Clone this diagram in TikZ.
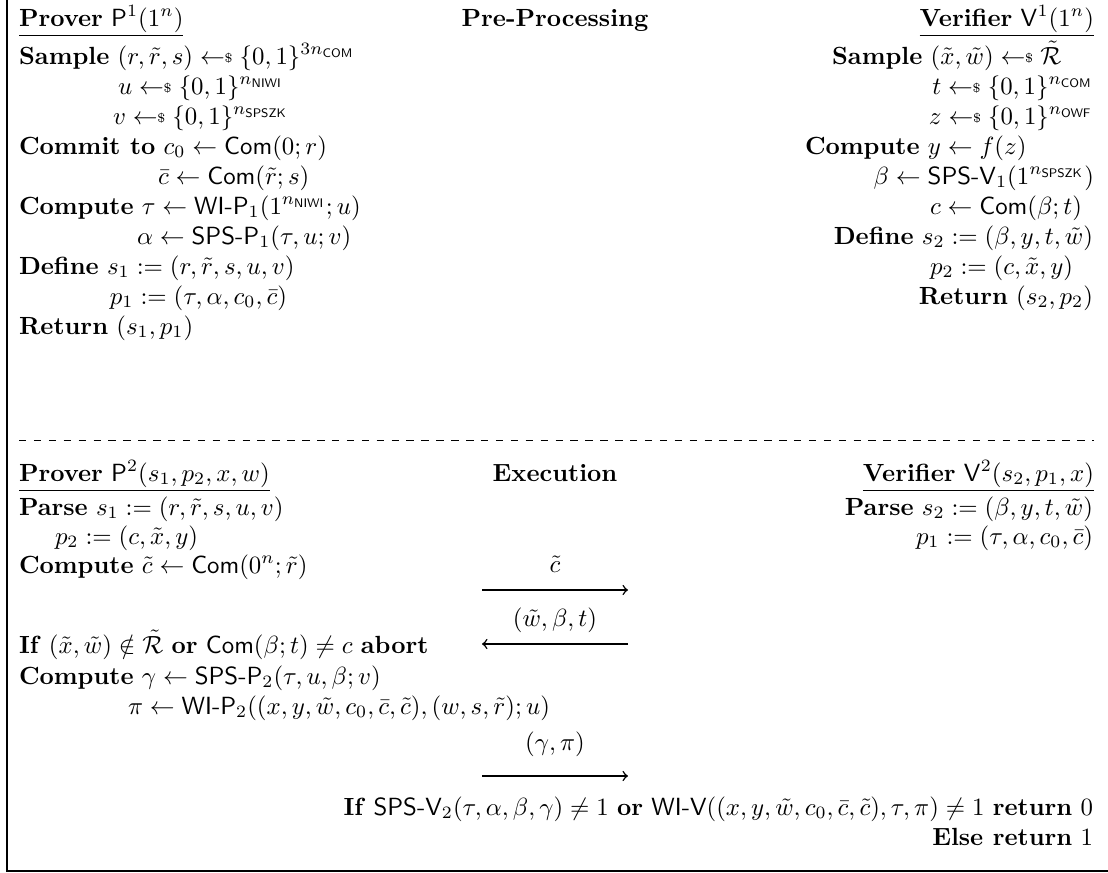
\documentclass[tikz,border=0pt]{standalone}
\usepackage{amsmath,amssymb}
\newcommand{\getsr}{\mathrel{\leftarrow\hspace*{-3pt}\raisebox{.75pt}{$\scriptscriptstyle\$$}}}
\begin{document}
\begin{tikzpicture}[x=0.4026pt,y=-0.4026pt,
  every node/.style={inner sep=0pt,outer sep=0pt},
  lbl/.style={anchor=base west},
  rbl/.style={anchor=base east},
  cbl/.style={anchor=base},
  msg/.style={->,semithick}]
\useasboundingbox (0,0) rectangle (1108,873);
% frame
\draw[semithick] (7,-2) -- (7,871) -- (1110,871);
% ---------- Pre-processing ----------
\node[lbl] (p1title) at (19,26) {\underline{\textbf{Prover} $\mathsf{P}^1(1^n)$}};
\node[cbl] (pre) at (555,26) {\textbf{Pre-Processing}};
\node[rbl] (v1title) at (1094,26) {\underline{\textbf{Verifier} $\mathsf{V}^1(1^n)$}};

\node[lbl] (l1) at (19,64) {\textbf{Sample} $(r,\tilde r,s)\getsr\{0,1\}^{3n_{\mathsf{COM}}}$};
\node[lbl] (l2) at (118,94) {$u\getsr\{0,1\}^{n_{\mathsf{NIWI}}}$};
\node[lbl] (l3) at (113,124) {$v\getsr\{0,1\}^{n_{\mathsf{SPSZK}}}$};
\node[lbl] (l4) at (19,154) {\textbf{Commit to} $c_0\gets\mathsf{Com}(0;r)$};
\node[lbl] (l5) at (158,184) {$\bar c\gets\mathsf{Com}(\tilde r;s)$};
\node[lbl] (l6) at (19,214) {\textbf{Compute} $\tau\gets\textsf{WI-P}_1(1^{n_{\mathsf{NIWI}}};u)$};
\node[lbl] (l7) at (137,244) {$\alpha\gets\textsf{SPS-P}_1(\tau,u;v)$};
\node[lbl] (l8) at (19,274) {\textbf{Define} $s_1:=(r,\tilde r,s,u,v)$};
\node[lbl] (l9) at (110,304) {$p_1:=(\tau,\alpha,c_0,\bar c)$};
\node[lbl] (l10) at (19,334) {\textbf{Return} $(s_1,p_1)$};

\node[lbl] (r1) at (832,64) {\textbf{Sample} $(\tilde x,\tilde w)\getsr\tilde{\mathcal R}$};
\node[rbl] (r2) at (1093,94) {$t\getsr\{0,1\}^{n_{\mathsf{COM}}}$};
\node[rbl] (r3) at (1093,124) {$z\getsr\{0,1\}^{n_{\mathsf{OWF}}}$};
\node[lbl] (r4) at (805,154) {\textbf{Compute} $y\gets f(z)$};
\node[rbl] (r5) at (1094,184) {$\beta\gets\textsf{SPS-V}_1(1^{n_{\mathsf{SPSZK}}})$};
\node[lbl] (r6) at (930,214) {$c\gets\mathsf{Com}(\beta;t)$};
\node[rbl] (r7) at (1093,244) {\textbf{Define} $s_2:=(\beta,y,t,\tilde w)$};
\node[lbl] (r8) at (930,274) {$p_2:=(c,\tilde x,y)$};
\node[rbl] (r9) at (1093,304) {\textbf{Return} $(s_2,p_2)$};

% separator
\coordinate (sepL) at (19,440);
\coordinate (sepR) at (1094,440);
\draw[dashed] (sepL) -- (sepR);

% ---------- Execution ----------
\node[lbl] (p2title) at (19,481) {\underline{\textbf{Prover} $\mathsf{P}^2(s_1,p_2,x,w)$}};
\node[cbl] (exec) at (555,481) {\textbf{Execution}};
\node[rbl] (v2title) at (1094,481) {\underline{\textbf{Verifier} $\mathsf{V}^2(s_2,p_1,x)$}};

\node[lbl] (b1) at (19,515) {\textbf{Parse} $s_1:=(r,\tilde r,s,u,v)$};
\node[lbl] (b2) at (55,544) {$p_2:=(c,\tilde x,y)$};
\node[lbl] (b3) at (19,573) {\textbf{Compute} $\tilde c\gets\mathsf{Com}(0^n;\tilde r)$};
\node[lbl] (b4) at (19,653) {\textbf{If} $(\tilde x,\tilde w)\notin\tilde{\mathcal R}$ \textbf{or} $\mathsf{Com}(\beta;t)\neq c$ \textbf{abort}};
\node[lbl] (b5) at (19,684) {\textbf{Compute} $\gamma\gets\textsf{SPS-P}_2(\tau,u,\beta;v)$};
\node[lbl] (b6) at (128,714) {$\pi\gets\textsf{WI-P}_2((x,y,\tilde w,c_0,\bar c,\tilde c),(w,s,\tilde r);u)$};

\node[rbl] (bv1) at (1093,515) {\textbf{Parse} $s_2:=(\beta,y,t,\tilde w)$};
\node[rbl] (bv2) at (1093,544) {$p_1:=(\tau,\alpha,c_0,\bar c)$};
\node[rbl] (bv3) at (1093,815) {\textbf{If} $\textsf{SPS-V}_2(\tau,\alpha,\beta,\gamma)\neq1$ \textbf{or} $\textsf{WI-V}((x,y,\tilde w,c_0,\bar c,\tilde c),\tau,\pi)\neq1$ \textbf{return} $0$};
\node[rbl] (bv4) at (1093,845) {\textbf{Else return} $1$};

% messages
\coordinate (m1s) at (482,590); \coordinate (m1e) at (628,590);
\coordinate (m2s) at (628,644); \coordinate (m2e) at (482,644);
\coordinate (m3s) at (482,776); \coordinate (m3e) at (628,776);
\draw[msg] (m1s) -- (m1e);
\draw[msg] (m2s) -- (m2e);
\draw[msg] (m3s) -- (m3e);
\node[cbl] (m1l) at (555,572) {$\tilde c$};
\node[cbl] (m2l) at (555,626) {$(\tilde w,\beta,t)$};
\node[cbl] (m3l) at (555,750) {$(\gamma,\pi)$};
\end{tikzpicture}
\end{document}
